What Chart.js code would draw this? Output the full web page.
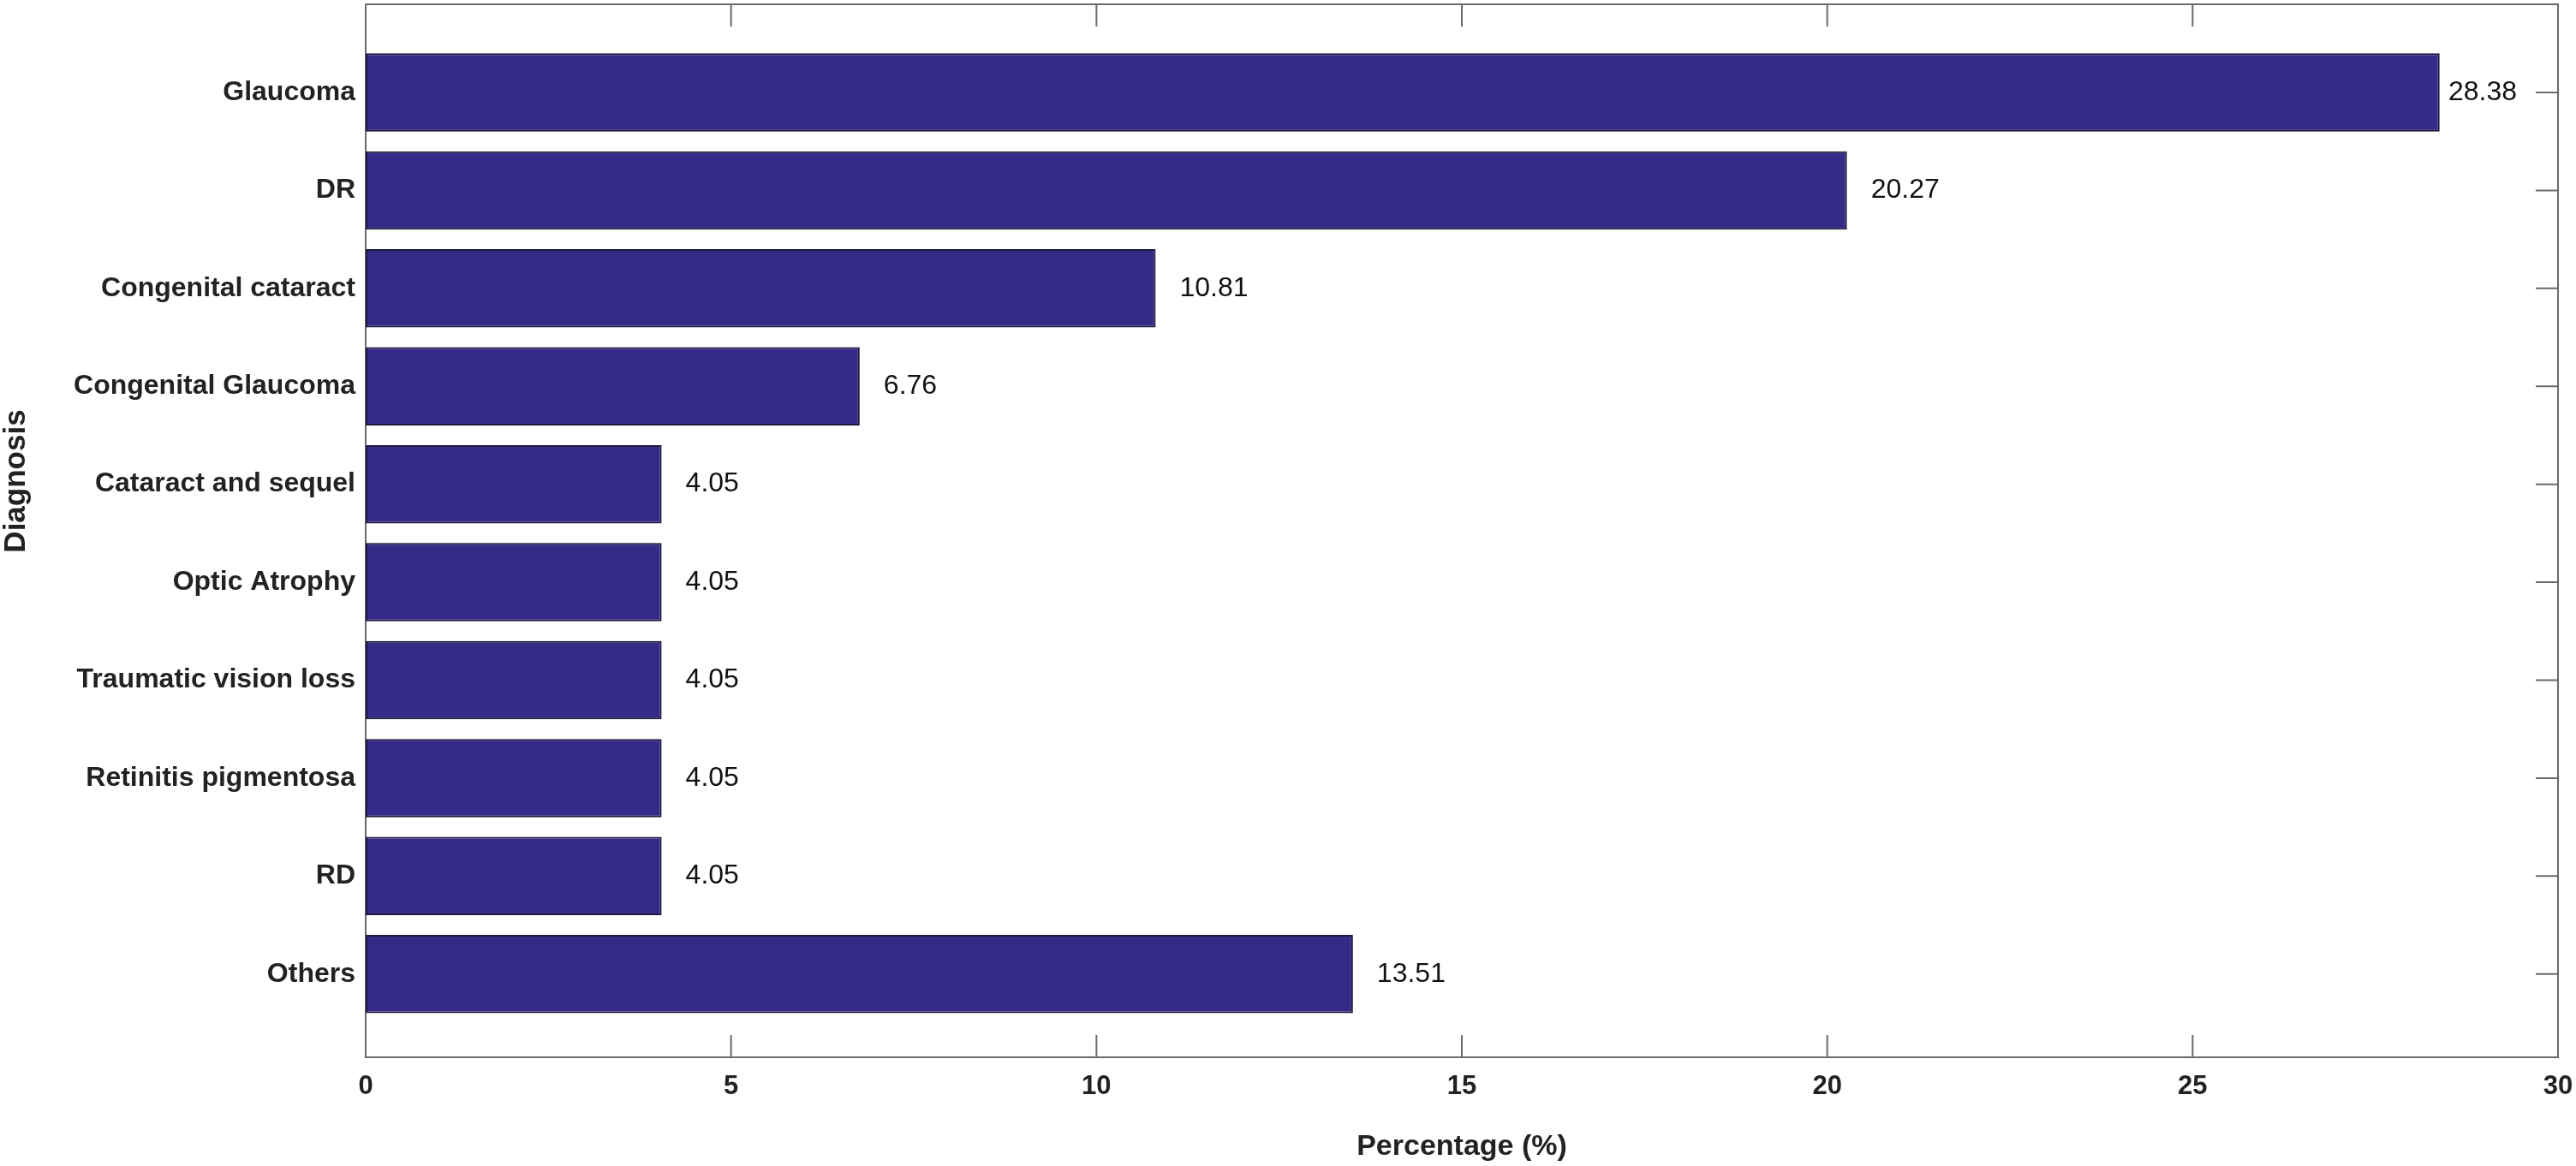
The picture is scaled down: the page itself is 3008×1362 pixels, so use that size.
<!DOCTYPE html>
<html>
<head>
<meta charset="utf-8">
<script src="https://cdn.jsdelivr.net/npm/chart.js@4/dist/chart.umd.min.js"></script>
<style>
  html, body { margin: 0; padding: 0; background: #fff; }
  canvas { display: block; }
</style>
</head>
<body>
<canvas id="chart" width="3008" height="1362"></canvas>
<script>
// data
const diagnoses = ['Glaucoma', 'DR', 'Congenital cataract', 'Congenital Glaucoma', 'Cataract and sequel',
  'Optic Atrophy', 'Traumatic vision loss', 'Retinitis pigmentosa', 'RD', 'Others'];
const percentages = [28.38, 20.27, 10.81, 6.76, 4.05, 4.05, 4.05, 4.05, 4.05, 13.51];
const xTicks = [0, 5, 10, 15, 20, 25, 30];

const axisColor = '#6b6b6b';
const textColor = '#222';
const font = 'Liberation Sans';

// chart.js adds room for half labels at the ends, we don't want it
const noPad = s => { s.paddingLeft = 0; s.paddingRight = 0; s.paddingTop = 0; s.paddingBottom = 0; };

// box round the plot and the short inward ticks (matlab style)
const frame = {
  id: 'frame',
  beforeDatasetsDraw(chart) {
    const { ctx, chartArea: a, scales } = chart;
    const len = 26;
    ctx.save();
    ctx.strokeStyle = axisColor;
    ctx.lineWidth = 2;
    ctx.beginPath();
    xTicks.forEach(v => {
      const x = scales.x.getPixelForValue(v);
      ctx.moveTo(x, a.top); ctx.lineTo(x, a.top + len);
      ctx.moveTo(x, a.bottom); ctx.lineTo(x, a.bottom - len);
    });
    diagnoses.forEach((d, i) => {
      const y = scales.y.getPixelForValue(i);
      ctx.moveTo(a.left, y); ctx.lineTo(a.left + len, y);
      ctx.moveTo(a.right, y); ctx.lineTo(a.right - len, y);
    });
    ctx.stroke();
    ctx.strokeRect(a.left, a.top, a.right - a.left, a.bottom - a.top);
    ctx.restore();
  },
  afterDatasetsDraw(chart) {
    const { ctx, chartArea: a } = chart;
    ctx.save();
    ctx.fillStyle = '#111';
    // value labels, kept clear of the right tick marks
    ctx.font = '32px "' + font + '"';
    ctx.textBaseline = 'middle';
    ctx.textAlign = 'left';
    chart.getDatasetMeta(0).data.forEach((bar, i) => {
      const txt = percentages[i].toFixed(2);
      const w = ctx.measureText(txt).width;
      ctx.fillText(txt, Math.min(bar.x + 28, a.right - 48 - w), bar.y);
    });
    // axis titles
    ctx.fillStyle = textColor;
    ctx.font = 'bold 34px "' + font + '"';
    ctx.textAlign = 'center';
    ctx.fillText('Percentage (%)', (a.left + a.right) / 2, 1340);
    ctx.font = 'bold 35px "' + font + '"';
    ctx.translate(19, 562);
    ctx.rotate(-Math.PI / 2);
    ctx.fillText('Diagnosis', 0, 0);
    ctx.restore();
  }
};

new Chart(document.getElementById('chart'), {
  type: 'bar',
  data: {
    datasets: [{
      data: percentages.map((v, i) => ({ x: v, y: i })),
      backgroundColor: '#352a87',
      borderColor: '#1c1a3a',
      borderWidth: 2,
      borderSkipped: false,
      barPercentage: 0.8,
      categoryPercentage: 1.0
    }]
  },
  options: {
    indexAxis: 'y',
    responsive: false,
    devicePixelRatio: 1,
    animation: false,
    layout: { padding: { top: 5, right: 21, left: 0, bottom: 0 } },
    plugins: { legend: { display: false }, tooltip: { enabled: false } },
    scales: {
      x: {
        type: 'linear',
        min: 0,
        max: 30,
        afterBuildTicks: s => { s.ticks = xTicks.map(v => ({ value: v })); },
        afterFit: s => { s.height = 127; noPad(s); },
        grid: { display: false, drawTicks: false },
        border: { display: false },
        ticks: { color: textColor, padding: 16, font: { family: font, size: 31, weight: 'bold' } }
      },
      y: {
        type: 'linear',
        offset: false,
        reverse: true,
        min: -0.9,
        max: 9.85,
        afterBuildTicks: s => { s.ticks = diagnoses.map((d, i) => ({ value: i })); },
        afterFit: s => { s.width = 427; noPad(s); },
        grid: { display: false, drawTicks: false },
        border: { display: false },
        ticks: {
          autoSkip: false,
          color: textColor,
          padding: 12,
          font: { family: font, size: 32, weight: 'bold' },
          callback: v => diagnoses[v]
        }
      }
    }
  },
  plugins: [frame]
});
</script>
</body>
</html>
